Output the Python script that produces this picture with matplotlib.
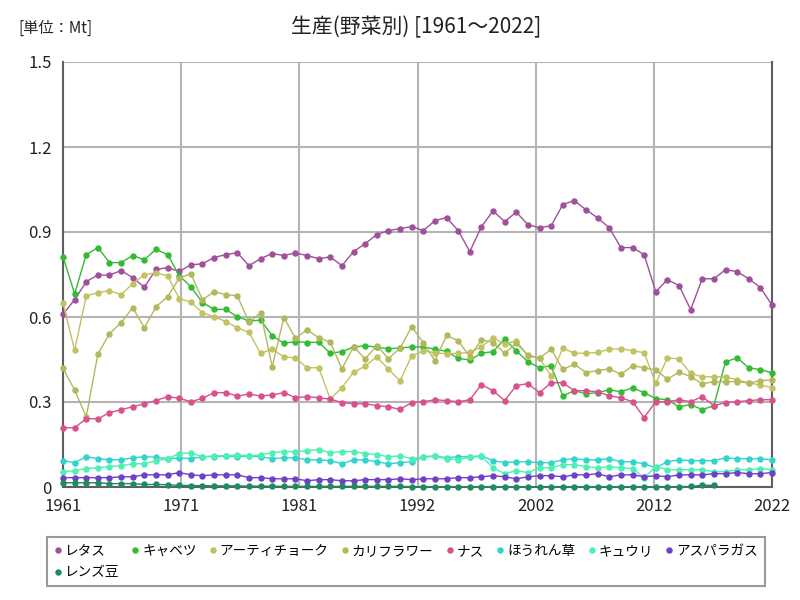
import numpy as np
import matplotlib
matplotlib.use("Agg")
import matplotlib.pyplot as plt

plt.rcParams['font.family'] = ['Noto Sans CJK JP', 'DejaVu Sans']

# ---------------- data (Mt), 1961-2022 ---------------- #
years = list(range(1961, 2023))

lettuce = [0.61, 0.661, 0.725, 0.748, 0.748, 0.764, 0.739, 0.705, 0.768, 0.774,
           0.761, 0.784, 0.788, 0.81, 0.82, 0.827, 0.781, 0.806, 0.824, 0.817,
           0.826, 0.817, 0.806, 0.812, 0.781, 0.831, 0.859, 0.891, 0.905, 0.912,
           0.919, 0.905, 0.94, 0.951, 0.905, 0.831, 0.919, 0.974, 0.937, 0.97,
           0.926, 0.915, 0.922, 0.997, 1.011, 0.978, 0.95, 0.915, 0.845, 0.845,
           0.82, 0.689, 0.732, 0.711, 0.626, 0.735, 0.735, 0.767, 0.76, 0.735,
           0.704, 0.642]

cabbage = [0.813, 0.682, 0.82, 0.845, 0.792, 0.792, 0.817, 0.802, 0.839, 0.82,
           0.746, 0.707, 0.651, 0.627, 0.627, 0.601, 0.586, 0.589, 0.534, 0.507,
           0.513, 0.51, 0.511, 0.472, 0.478, 0.494, 0.499, 0.493, 0.488, 0.491,
           0.494, 0.495, 0.486, 0.479, 0.454, 0.448, 0.472, 0.478, 0.522, 0.481,
           0.442, 0.421, 0.428, 0.322, 0.34, 0.329, 0.333, 0.343, 0.336, 0.35,
           0.333, 0.312, 0.308, 0.283, 0.291, 0.273, 0.287, 0.442, 0.456, 0.421,
           0.414, 0.403]

artichoke = [0.65, 0.483, 0.674, 0.686, 0.693, 0.679, 0.718, 0.749, 0.756, 0.745,
             0.665, 0.653, 0.615, 0.601, 0.584, 0.562, 0.546, 0.472, 0.486, 0.46,
             0.455, 0.421, 0.421, 0.31, 0.351, 0.405, 0.427, 0.46, 0.415, 0.375,
             0.463, 0.48, 0.474, 0.47, 0.472, 0.475, 0.495, 0.527, 0.505, 0.516,
             0.462, 0.454, 0.392, 0.49, 0.472, 0.472, 0.475, 0.486, 0.488, 0.481,
             0.474, 0.366, 0.456, 0.452, 0.401, 0.389, 0.389, 0.389, 0.378, 0.368,
             0.36, 0.351]

cauliflower = [0.419, 0.342, 0.248, 0.469, 0.541, 0.58, 0.633, 0.562, 0.636, 0.672,
               0.737, 0.753, 0.661, 0.689, 0.679, 0.675, 0.581, 0.615, 0.425, 0.598,
               0.525, 0.555, 0.527, 0.511, 0.417, 0.495, 0.452, 0.499, 0.453, 0.49,
               0.566, 0.509, 0.446, 0.535, 0.516, 0.46, 0.52, 0.51, 0.472, 0.507,
               0.466, 0.455, 0.486, 0.415, 0.433, 0.404, 0.411, 0.417, 0.398, 0.428,
               0.421, 0.413, 0.381, 0.405, 0.39, 0.364, 0.372, 0.372, 0.372, 0.367,
               0.375, 0.378]

eggplant = [0.209, 0.209, 0.241, 0.241, 0.262, 0.273, 0.283, 0.294, 0.305, 0.319,
            0.313, 0.301, 0.313, 0.333, 0.333, 0.321, 0.328, 0.321, 0.325, 0.333,
            0.315, 0.319, 0.315, 0.31, 0.298, 0.294, 0.294, 0.287, 0.283, 0.274,
            0.298, 0.301, 0.308, 0.305, 0.301, 0.308, 0.361, 0.34, 0.305, 0.358,
            0.365, 0.333, 0.368, 0.368, 0.34, 0.34, 0.336, 0.322, 0.315, 0.301,
            0.245, 0.301, 0.301, 0.308, 0.301, 0.319, 0.287, 0.298, 0.301, 0.305,
            0.308, 0.308]

spinach = [0.093, 0.086, 0.107, 0.1, 0.096, 0.096, 0.103, 0.107, 0.105, 0.1,
           0.103, 0.1, 0.107, 0.107, 0.11, 0.107, 0.11, 0.107, 0.1, 0.103,
           0.103, 0.096, 0.096, 0.093, 0.082, 0.096, 0.096, 0.089, 0.082, 0.086,
           0.089, 0.107, 0.11, 0.103, 0.107, 0.107, 0.11, 0.093, 0.086, 0.089,
           0.089, 0.086, 0.086, 0.096, 0.1, 0.096, 0.096, 0.1, 0.089, 0.089,
           0.082, 0.068, 0.089, 0.096, 0.093, 0.093, 0.093, 0.103, 0.1, 0.1,
           0.1, 0.096]

cucumber = [0.054, 0.058, 0.065, 0.068, 0.072, 0.075, 0.082, 0.082, 0.093, 0.1,
            0.118, 0.121, 0.107, 0.11, 0.11, 0.114, 0.11, 0.114, 0.121, 0.125,
            0.125, 0.128, 0.132, 0.121, 0.125, 0.125, 0.118, 0.114, 0.107, 0.11,
            0.1, 0.105, 0.108, 0.1, 0.096, 0.105, 0.108, 0.068, 0.047, 0.058,
            0.051, 0.068, 0.068, 0.079, 0.079, 0.072, 0.068, 0.072, 0.068, 0.065,
            0.033, 0.072, 0.061, 0.061, 0.061, 0.061, 0.054, 0.054, 0.061, 0.061,
            0.065, 0.061]

asparagus = [0.033, 0.033, 0.033, 0.033, 0.033, 0.036, 0.036, 0.043, 0.043, 0.043,
             0.051, 0.043, 0.04, 0.043, 0.043, 0.043, 0.033, 0.033, 0.029, 0.029,
             0.029, 0.022, 0.026, 0.026, 0.022, 0.022, 0.026, 0.026, 0.026, 0.029,
             0.026, 0.029, 0.029, 0.029, 0.033, 0.033, 0.036, 0.04, 0.036, 0.029,
             0.036, 0.04, 0.04, 0.036, 0.043, 0.043, 0.047, 0.036, 0.043, 0.043,
             0.036, 0.04, 0.036, 0.043, 0.043, 0.043, 0.047, 0.047, 0.051, 0.047,
             0.047, 0.051]

# no values after 2017
lentils = [0.015, 0.015, 0.015, 0.015, 0.012, 0.012, 0.012, 0.009, 0.009, 0.008,
           0.006, 0.005, 0.005, 0.004, 0.004, 0.004, 0.003, 0.003, 0.003, 0.002,
           0.002, 0.002, 0.002, 0.002, 0.002, 0.002, 0.002, 0.002, 0.002, 0.002,
           0.001, 0.001, 0.001, 0.001, 0.001, 0.001, 0.001, 0.001, 0.001, 0.001,
           0.001, 0.001, 0.001, 0.001, 0.001, 0.001, 0.001, 0.001, 0.001, 0.001,
           0.001, 0.001, 0.001, 0.001, 0.002, 0.006, 0.006, None, None, None,
           None, None]

names = ['レタス', 'キャベツ', 'アーティチョーク', 'カリフラワー', 'ナス',
         'ほうれん草', 'キュウリ', 'アスパラガス', 'レンズ豆']
series = [lettuce, cabbage, artichoke, cauliflower, eggplant,
          spinach, cucumber, asparagus, lentils]
colors = ['#a0509a', '#33bb33', '#c2c262', '#b4b85c', '#d8508c',
          '#30d4cc', '#4cf0b4', '#6e40c8', '#1f8a60']

# ---------------- plot ----------------------------------- #
fig = plt.figure(figsize=(8, 6), dpi=100)
ax = fig.add_axes([63 / 800, 113 / 600, 709 / 800, 425 / 600])

handles = []
for name, vals, c in zip(names, series, colors):
    y = np.array([np.nan if v is None else v for v in vals], dtype=float)
    h, = ax.plot(years, y, color=c, lw=1, marker='o', ms=3.6, label=name,
                 clip_on=False, zorder=3)
    handles.append(h)

ax.set_xlim(1961, 2022)
ax.set_ylim(0, 1.5)
xt = np.linspace(1961, 2022, 7)
ax.set_xticks(xt)
ax.set_xticklabels([str(int(np.floor(t + 0.5))) for t in xt])
ax.set_yticks([0, 0.3, 0.6, 0.9, 1.2, 1.5])
ax.set_yticklabels(['0', '0.3', '0.6', '0.9', '1.2', '1.5'])
ax.tick_params(length=0, labelsize=12, pad=8, colors='#222222')
ax.grid(True, color='#b4b4b4', lw=1.5)
ax.set_axisbelow(True)
for s in ['left', 'bottom', 'right']:
    ax.spines[s].set_color('#606060')
    ax.spines[s].set_linewidth(1.5)
ax.spines['top'].set_visible(False)

fig.text(0.52, 1 - 27 / 600, '生産(野菜別) [1961～2022]', ha='center',
         va='center', fontsize=15, color='#222222')
fig.text(18 / 800, 1 - 28 / 600, '[単位：Mt]', ha='left', va='center',
         fontsize=11, color='#222222')

# legend laid out row by row (9 entries, 8 columns)
order = [0, 8, 1, 2, 3, 4, 5, 6, 7]
leg = fig.legend([handles[i] for i in order], [names[i] for i in order],
                 ncol=8, loc='lower left', bbox_to_anchor=(40 / 800, 7 / 600),
                 frameon=True, fancybox=False, fontsize=9.8, handlelength=0.6,
                 handletextpad=0.2, columnspacing=0.9, borderpad=0.5,
                 labelspacing=0.55)
for h in leg.legend_handles:
    h.set_linestyle('none')
leg.get_frame().set_edgecolor('#808080')
leg.get_frame().set_linewidth(1.5)

fig.savefig('out.png', dpi=100, facecolor='white')
